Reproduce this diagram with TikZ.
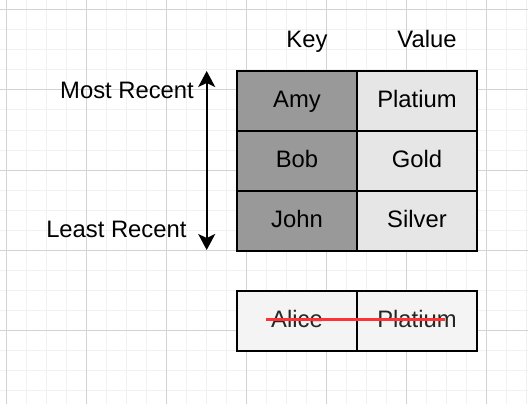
\documentclass[tikz,border=0pt]{standalone}
\usepackage{fontspec}
\setmainfont{Liberation Sans}
\usetikzlibrary{arrows.meta}
\definecolor{gridminor}{HTML}{F1F1F1}
\definecolor{gridmajor}{HTML}{D3D3D3}
\definecolor{keyfill}{HTML}{999999}
\definecolor{valfill}{HTML}{E6E6E6}
\definecolor{oldfill}{HTML}{F4F4F4}
\definecolor{strike}{HTML}{FF3333}
\tikzset{
  txt/.style={font=\fontsize{23.8}{28}\selectfont, inner sep=0pt},
  cellbox/.style={txt, draw=black, line width=2pt, minimum width=120pt, minimum height=60pt,
    text height=16.8pt, text depth=4.2pt},
  keycell/.style={cellbox, fill=keyfill},
  valcell/.style={cellbox, fill=valfill},
  oldcell/.style={cellbox, fill=oldfill, text=black!85},
  recency/.style={line width=2pt, {Stealth[length=16pt,width=17pt,inset=4pt]}-{Stealth[length=16pt,width=17pt,inset=4pt]}},
  strikeline/.style={draw=strike, line width=3pt}
}
\begin{document}
\begin{tikzpicture}[x=1pt,y=-1pt]
\useasboundingbox (0,0) rectangle (528,404);
\fill[white] (0,0) rectangle (528,404);
% grid
\foreach \i in {0,...,26} {
  \draw[gridminor, line width=1pt] (6.7+20*\i,0) -- (6.7+20*\i,404);
}
\foreach \j in {0,...,19} {
  \draw[gridminor, line width=1pt] (0,10+20*\j) -- (528,10+20*\j);
}
\foreach \i in {0,...,6} {
  \draw[gridmajor, line width=1pt] (6.7+80*\i,0) -- (6.7+80*\i,404);
}
\foreach \j in {0,...,4} {
  \draw[gridmajor, line width=1pt] (0,10+80*\j) -- (528,10+80*\j);
}
% headers
\node[txt, anchor=base] (key) at (307,47.7) {Key};
\node[txt, anchor=base] (value) at (427,47.7) {Value};
% table
\node[keycell] (amy) at (297,101) {Amy};
\node[valcell] (amyv) at (417,101) {Platium};
\node[keycell] (bob) at (297,161) {Bob};
\node[valcell] (bobv) at (417,161) {Gold};
\node[keycell] (john) at (297,221) {John};
\node[valcell] (johnv) at (417,221) {Silver};
% evicted entry
\node[oldcell] (alice) at (297,321) {Alice};
\node[oldcell] (alicev) at (417,321) {Platium};
\coordinate (s1) at (266,319);
\coordinate (s2) at (445,319);
\draw[strikeline] (s1) -- (s2);
% recency arrow
\coordinate (top) at (206.7,71);
\coordinate (bot) at (206.7,250);
\draw[recency] (bot) -- (top);
\node[txt, anchor=base east] (most) at (194,98.3) {Most Recent};
\node[txt, anchor=base east] (least) at (186.7,237.3) {Least Recent};
\end{tikzpicture}
\end{document}
